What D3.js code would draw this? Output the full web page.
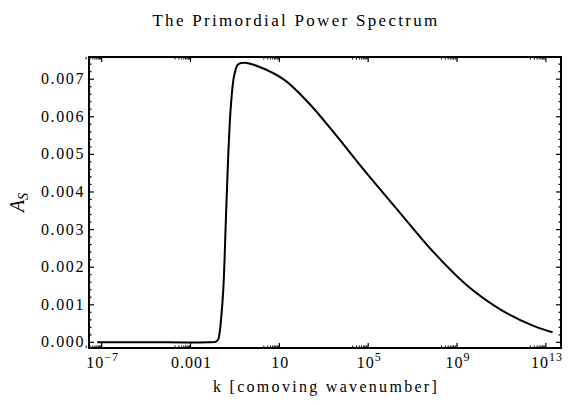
<!DOCTYPE html>
<html>
<head>
<meta charset="utf-8">
<script src="https://cdnjs.cloudflare.com/ajax/libs/d3/7.8.5/d3.min.js"></script>
<style>
  body { margin: 0; background: #fff; }
</style>
</head>
<body>
<div id="chart"></div>
<script>
// data (log10 k, A_S)
const kExp = [-7.2, -4, -2.2, -1.85, -1.75, -1.68, -1.63, -1.52, -1.41, -1.30, -1.18, -1.03,
  -0.85, -0.55, -0.09, 1.18, 2.3, 3.43, 4.9, 6.44, 7.94, 9.44, 10.94, 12.44, 13.3];
const asValues = [0, 0, 0, 0.00002, 0.00008, 0.0003, 0.00057, 0.00145, 0.00322, 0.00499, 0.00631, 0.00711,
  0.0074, 0.00744, 0.00737, 0.007, 0.00638, 0.0056, 0.00452, 0.00344, 0.0024, 0.00152, 0.00088, 0.00044, 0.00027];

const xTickExp = [-7, -3, 1, 5, 9, 13];
const xTickLabels = ["10^−7", "0.001", "10", "10^5", "10^9", "10^13"];
const yTicks = [0, 0.001, 0.002, 0.003, 0.004, 0.005, 0.006, 0.007];
const yTickLabels = ["0.000", "0.001", "0.002", "0.003", "0.004", "0.005", "0.006", "0.007"];

const width = 569, height = 405;
const margin = { top: 57, right: 8, bottom: 57, left: 89 };
const serif = '"Liberation Serif", "Times New Roman", serif';

const svg = d3.select('#chart').append('svg')
  .attr('width', width)
  .attr('height', height)
  .attr('font-family', serif);

const x = d3.scaleLog()
  .domain([Math.pow(10, -7.57), Math.pow(10, 13.68)])
  .range([margin.left, width - margin.right]);

const y = d3.scaleLinear()
  .domain([-0.00015, 0.00759])
  .range([height - margin.bottom, margin.top]);

const data = kExp.map((e, i) => ({ k: Math.pow(10, e), a: asValues[i] }));

// minor ticks
const xMajor = xTickExp.map(e => Math.pow(10, e));
const xMinor = [];
xTickExp.forEach(e => { for (let m = 2; m <= 9; m++) xMinor.push(m * Math.pow(10, e - 1)); });
const yMinor = d3.range(0, 0.0075, 0.0002).filter(v => Math.abs(v * 1000 - Math.round(v * 1000)) > 1e-6);

const x0 = x.range()[0], x1 = x.range()[1], y0 = y.range()[0], y1 = y.range()[1];
const ticks = svg.append('g').attr('stroke', '#000');

function tickLines(vals, len, sw) {
  vals.forEach(v => {
    const px = x(v);
    ticks.append('line').attr('x1', px).attr('x2', px).attr('y1', y0).attr('y2', y0 - len).attr('stroke-width', sw);
    ticks.append('line').attr('x1', px).attr('x2', px).attr('y1', y1).attr('y2', y1 + len).attr('stroke-width', sw);
  });
}
function yTickLines(vals, len, sw) {
  vals.forEach(v => {
    const py = y(v);
    ticks.append('line').attr('x1', x0).attr('x2', x0 + len).attr('y1', py).attr('y2', py).attr('stroke-width', sw);
    ticks.append('line').attr('x1', x1).attr('x2', x1 - len).attr('y1', py).attr('y2', py).attr('stroke-width', sw);
  });
}
tickLines(xMajor, 5, 1.2);
tickLines(xMinor, 2.5, 1);
yTickLines(yTicks, 5, 1.2);
yTickLines(yMinor, 2.5, 1.2);

// curve
const line = d3.line()
  .x(d => x(d.k))
  .y(d => y(d.a))
  .curve(d3.curveCatmullRom.alpha(0.5));

svg.append('path')
  .datum(data)
  .attr('d', line)
  .attr('fill', 'none')
  .attr('stroke', '#000')
  .attr('stroke-width', 2);

// frame
svg.append('rect')
  .attr('x', x0).attr('y', y1)
  .attr('width', x1 - x0).attr('height', y0 - y1)
  .attr('fill', 'none')
  .attr('stroke', '#000')
  .attr('stroke-width', 2);

// x tick labels
xMajor.forEach((v, i) => {
  const parts = xTickLabels[i].split('^');
  const t = svg.append('text')
    .attr('x', x(v) + 1)
    .attr('y', 368)
    .attr('text-anchor', 'middle')
    .attr('font-size', 16)
    .attr('letter-spacing', 1);
  t.append('tspan').text(parts[0]);
  if (parts[1]) {
    t.append('tspan').attr('dy', -7).attr('font-size', 12).text(parts[1]);
  }
});

// y tick labels
yTicks.forEach((v, i) => {
  svg.append('text')
    .attr('x', 85)
    .attr('y', y(v) + 5)
    .attr('text-anchor', 'end')
    .attr('font-size', 16)
    .attr('letter-spacing', 1.6)
    .text(yTickLabels[i]);
});

// title
svg.append('text')
  .attr('x', 296)
  .attr('y', 26)
  .attr('text-anchor', 'middle')
  .attr('font-size', 17)
  .attr('letter-spacing', 2.3)
  .text('The Primordial Power Spectrum');

// x axis title
svg.append('text')
  .attr('x', (x0 + x1) / 2 + 1)
  .attr('y', 392)
  .attr('text-anchor', 'middle')
  .attr('font-size', 16)
  .attr('letter-spacing', 2.3)
  .text('k [comoving wavenumber]');

// y axis title
const yl = svg.append('text')
  .attr('transform', 'translate(24,' + ((y0 + y1) / 2) + ') rotate(-90)')
  .attr('text-anchor', 'middle')
  .attr('font-size', 20)
  .attr('font-style', 'italic');
yl.append('tspan').text('A');
yl.append('tspan').attr('dy', 4).attr('font-size', 14).text('S');
</script>
</body>
</html>
